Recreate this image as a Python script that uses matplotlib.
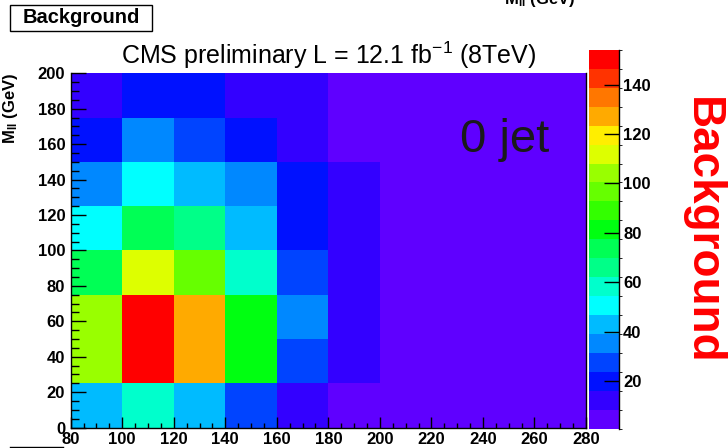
import numpy as np
import matplotlib.pyplot as plt
from matplotlib.colors import ListedColormap, BoundaryNorm
from matplotlib.ticker import MultipleLocator
from matplotlib.patches import Rectangle

plt.rcParams['font.family'] = ['Liberation Sans', 'DejaVu Sans']
plt.rcParams['font.weight'] = 'bold'
plt.rcParams['mathtext.fontset'] = 'custom'
plt.rcParams['mathtext.rm'] = 'Liberation Sans'
plt.rcParams['mathtext.default'] = 'regular'

# binning (GeV)
mt_edges = [80, 100, 120, 140, 160, 180, 200, 220, 240, 260, 280]
mll_edges = [0, 25, 50, 75, 100, 125, 150, 175, 200]

# background yield per bin, rows = mll bins (low -> high), cols = mt bins
bkg_0_25 = [42, 58, 42, 27, 12, 4, 4, 4, 4, 4]
bkg_25_50 = [104, 154, 127, 81, 27, 12, 4, 4, 4, 4]
bkg_50_75 = [104, 148, 127, 81, 35, 12, 4, 4, 4, 4]
bkg_75_100 = [73, 112, 96, 58, 27, 12, 4, 4, 4, 4]
bkg_100_125 = [50, 73, 65, 42, 19, 12, 4, 4, 4, 4]
bkg_125_150 = [35, 50, 42, 35, 19, 12, 4, 4, 4, 4]
bkg_150_175 = [19, 35, 27, 19, 12, 4, 4, 4, 4, 4]
bkg_175_200 = [12, 19, 19, 12, 12, 4, 4, 4, 4, 4]

bkg = np.array([bkg_0_25, bkg_25_50, bkg_50_75, bkg_75_100,
                bkg_100_125, bkg_125_150, bkg_150_175, bkg_175_200])

# ROOT-like 20 level palette
palette = ['#5f00ff', '#3300ff', '#0011ff', '#0044ff', '#0088ff',
           '#00bbff', '#00ffff', '#00ffcc', '#00ff88', '#00ff55',
           '#00ff11', '#33ff00', '#66ff00', '#99ff00', '#ddff00',
           '#ffee00', '#ffaa00', '#ff7700', '#ff3300', '#ff0000']
zmin, zmax = 0.8, 154
levels = np.linspace(zmin, zmax, len(palette) + 1)
cmap = ListedColormap(palette)
norm = BoundaryNorm(levels, cmap.N)

W, H = 728, 448
fig = plt.figure(figsize=(W / 100, H / 100), dpi=100)
ax = fig.add_axes([70.7 / W, 1 - 427.5 / H, (586 - 70.7) / W, (427.5 - 73.3) / H])
cax = fig.add_axes([589 / W, 1 - 428.5 / H, 30 / W, (428.5 - 50) / H])

mesh = ax.pcolormesh(mt_edges, mll_edges, bkg, cmap=cmap, norm=norm)
ax.set_xlim(80, 280)
ax.set_ylim(0, 200)
ax.spines['top'].set_visible(False)
for s in ['left', 'bottom', 'right']:
    ax.spines[s].set_linewidth(1.0)

ax.xaxis.set_major_locator(MultipleLocator(20))
ax.xaxis.set_minor_locator(MultipleLocator(5))
ax.yaxis.set_major_locator(MultipleLocator(20))
ax.yaxis.set_minor_locator(MultipleLocator(5))
ax.tick_params(axis='x', which='major', direction='in', length=7.6, width=1, labelsize=12, pad=3)
ax.tick_params(axis='x', which='minor', direction='in', length=3.8, width=1)
ax.tick_params(axis='y', which='major', direction='in', length=11, width=1, labelsize=12, pad=4)
ax.tick_params(axis='y', which='minor', direction='in', length=5.5, width=1)

ax.set_ylabel('M$_{ll}$ (GeV)', fontsize=12, fontweight='bold')
ax.yaxis.set_label_coords(-0.098, 1.0)
ax.yaxis.label.set_ha('right')

ax.text(0.843, 0.812, '0 jet', transform=ax.transAxes, fontsize=34,
        fontweight='normal', color='#1a1a1a', ha='center', va='center')

# palette axis
cb = fig.colorbar(mesh, cax=cax, ticks=[20, 40, 60, 80, 100, 120, 140])
cb.outline.set_visible(False)
cax.tick_params(direction='in', length=11, width=1, labelsize=12, pad=3)
cax.plot([1, 1], [0, 1], transform=cax.transAxes, color='black', lw=1, clip_on=False)

fig.text(329 / W, 1 - 55 / H, 'CMS preliminary L = 12.1 fb$^{-1}$ (8TeV)',
         fontsize=18, fontweight='normal', ha='center', va='center')

fig.text(702 / W, 1 - 231 / H, 'Background', rotation=-90, color='#ff0000',
         fontsize=33, fontweight='bold', ha='center', va='center')

# label box, top left
fig.add_artist(Rectangle((10 / W, 1 - 31 / H), 142 / W, 26 / H, transform=fig.transFigure,
                         fc='white', ec='black', lw=1))
fig.text(81 / W, 1 - 17.5 / H, 'Background', fontsize=14.5, fontweight='bold',
         ha='center', va='center')

# x axis title that sits above the canvas edge
fig.text(540 / W, 1 - 4 / H, 'M$_{ll}$ (GeV)', fontsize=12, fontweight='bold',
         ha='center', va='baseline')

fig.add_artist(plt.Line2D([10 / W, 63 / W], [1 - 446.5 / H, 1 - 446.5 / H],
                          color='black', lw=1))

fig.savefig('out.png', dpi=100)
